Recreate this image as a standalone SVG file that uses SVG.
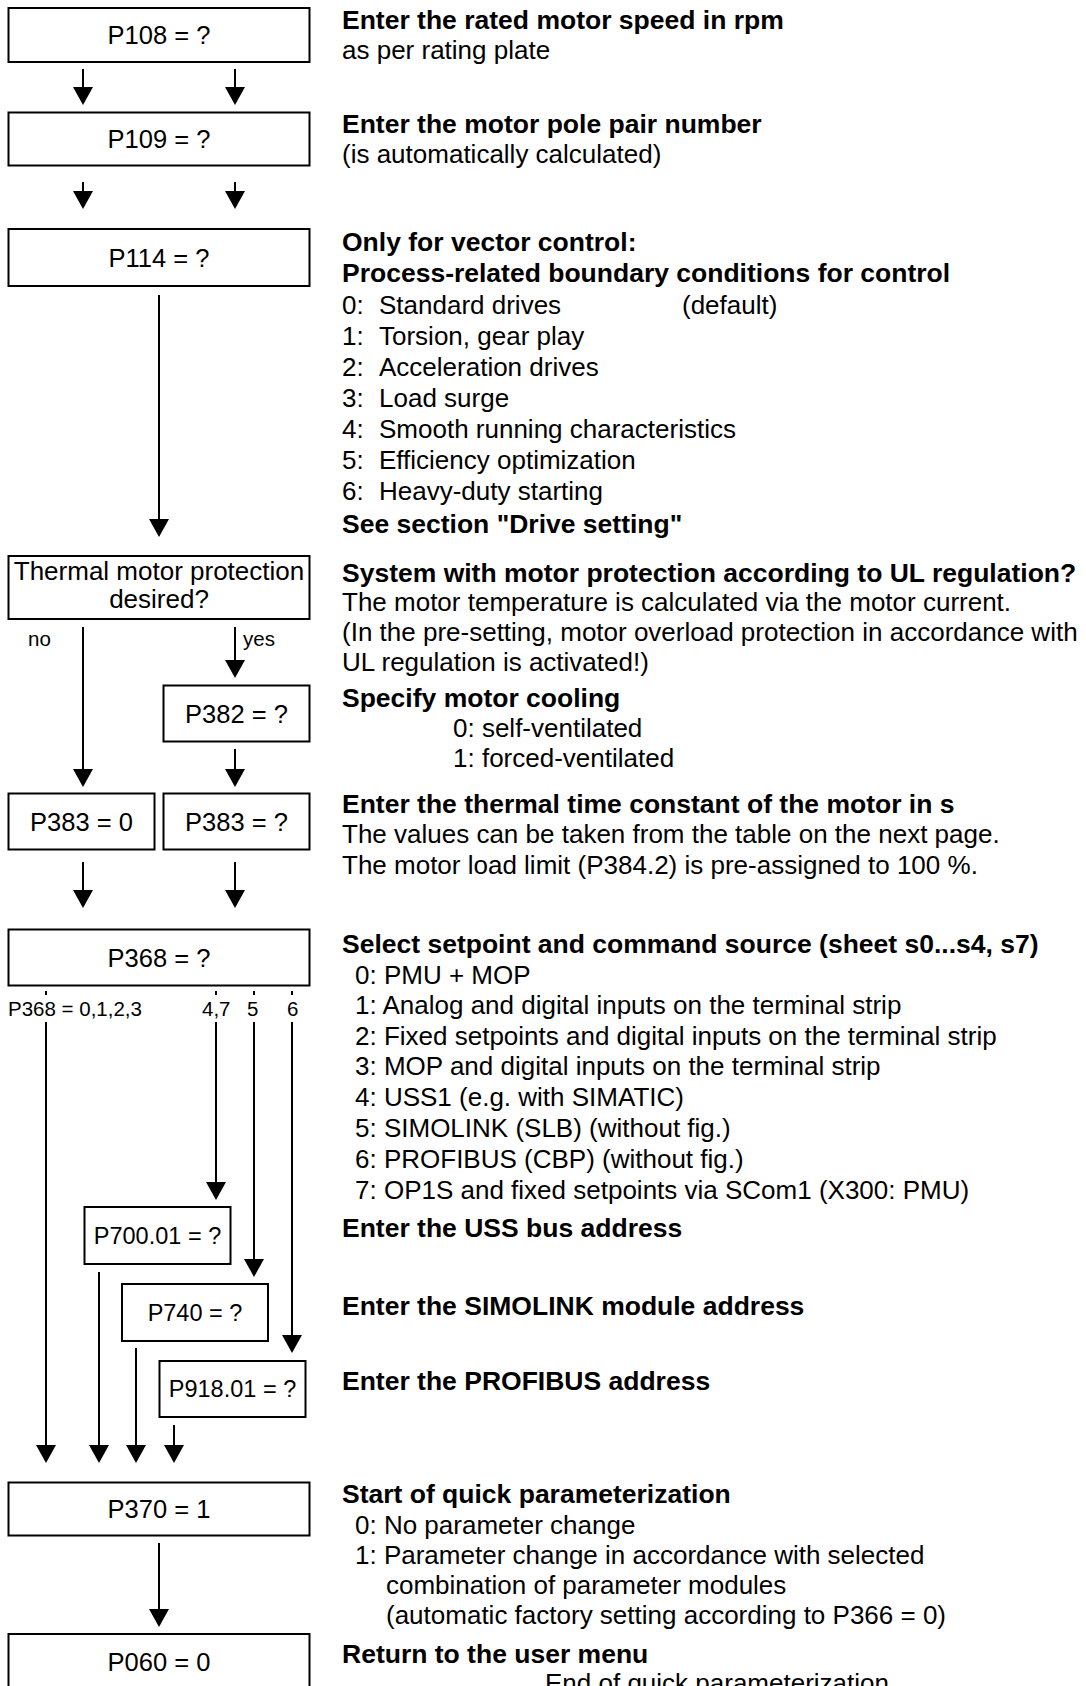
<svg xmlns="http://www.w3.org/2000/svg" width="1086" height="1686" viewBox="0 0 1086 1686">
  <style>
    .box { fill: #fff; stroke: #000; stroke-width: 2; }
    .lbl { font-family: "Liberation Sans", Arial, sans-serif; font-size: 25.5px; fill: #000; text-anchor: middle; }
    .lbl.s { font-size: 23.5px; }
    .lbl.t { font-size: 26px; }
    .txt { font-family: "Liberation Sans", Arial, sans-serif; font-size: 26px; fill: #000; }
    .b { font-weight: bold; font-size: 26.5px; }
    .sm { font-family: "Liberation Sans", Arial, sans-serif; font-size: 20.5px; fill: #000; }
    .wire { fill: none; stroke: #000; stroke-width: 2; }
    .arr { fill: none; stroke: #000; stroke-width: 2; marker-end: url(#head); }
  </style>
  <defs>
    <marker id="head" markerUnits="userSpaceOnUse" viewBox="0 0 18 20" refX="0" refY="10" markerWidth="18" markerHeight="20" orient="auto">
      <path d="M0,0 L18,10 L0,20 z" fill="#000"/>
    </marker>
  </defs>
  <rect width="1086" height="1686" fill="#fff"/>

  <!-- connectors -->
  <g id="connectors">
    <line class="arr" x1="83" y1="69" x2="83" y2="87"/>
    <line class="arr" x1="235" y1="69" x2="235" y2="87"/>
    <line class="arr" x1="83" y1="182" x2="83" y2="191"/>
    <line class="arr" x1="235" y1="182" x2="235" y2="191"/>
    <line class="arr" x1="159" y1="295" x2="159" y2="519"/>
    <line class="arr" x1="83" y1="627" x2="83" y2="769"/>
    <line class="arr" x1="235" y1="627" x2="235" y2="660"/>
    <line class="arr" x1="235" y1="749" x2="235" y2="769"/>
    <line class="arr" x1="83" y1="862" x2="83" y2="890"/>
    <line class="arr" x1="235" y1="862" x2="235" y2="890"/>
    <!-- stubs under P368 -->
    <line class="wire" x1="46" y1="991" x2="46" y2="995"/>
    <line class="wire" x1="216" y1="991" x2="216" y2="995"/>
    <line class="wire" x1="254" y1="991" x2="254" y2="995"/>
    <line class="wire" x1="292" y1="991" x2="292" y2="995"/>
    <line class="arr" x1="46" y1="1022" x2="46" y2="1445"/>
    <line class="arr" x1="216" y1="1022" x2="216" y2="1182"/>
    <line class="arr" x1="254" y1="1022" x2="254" y2="1259"/>
    <line class="arr" x1="292" y1="1022" x2="292" y2="1335"/>
    <line class="arr" x1="99" y1="1272" x2="99" y2="1445"/>
    <line class="arr" x1="136" y1="1348" x2="136" y2="1445"/>
    <line class="arr" x1="174" y1="1425" x2="174" y2="1445"/>
    <line class="arr" x1="159" y1="1543" x2="159" y2="1609"/>
  </g>

  <g id="n-p108"><rect class="box" x="8.5" y="8" width="301" height="54"/><text class="lbl" x="159" y="44">P108 = ?</text></g>
  <g id="n-p109"><rect class="box" x="8.5" y="112.5" width="301" height="53"/><text class="lbl" x="159" y="148">P109 = ?</text></g>
  <g id="n-p114"><rect class="box" x="8.5" y="229" width="301" height="57"/><text class="lbl" x="159" y="267">P114 = ?</text></g>
  <g id="n-thermal"><rect class="box" x="8.5" y="556" width="301" height="63"/><text class="lbl t" x="159" y="580">Thermal motor protection</text><text class="lbl t" x="159" y="608">desired?</text></g>
  <g id="n-p382"><rect class="box" x="163.5" y="685.5" width="146" height="56"/><text class="lbl" x="236.5" y="723">P382 = ?</text></g>
  <g id="n-p383a"><rect class="box" x="8.5" y="793.5" width="146" height="56"/><text class="lbl" x="81.5" y="831">P383 = 0</text></g>
  <g id="n-p383b"><rect class="box" x="163.5" y="793.5" width="146" height="56"/><text class="lbl" x="236.5" y="831">P383 = ?</text></g>
  <g id="n-p368"><rect class="box" x="8.5" y="929.5" width="301" height="56"/><text class="lbl" x="159" y="967">P368 = ?</text></g>
  <g id="n-p700"><rect class="box" x="84.5" y="1207" width="146" height="57"/><text class="lbl s" x="157.5" y="1244">P700.01 = ?</text></g>
  <g id="n-p740"><rect class="box" x="122" y="1284" width="146" height="57"/><text class="lbl s" x="195" y="1321">P740 = ?</text></g>
  <g id="n-p918"><rect class="box" x="159.5" y="1361" width="146" height="56"/><text class="lbl s" x="232.5" y="1397">P918.01 = ?</text></g>
  <g id="n-p370"><rect class="box" x="8.5" y="1482.5" width="301" height="53"/><text class="lbl" x="159" y="1518">P370 = 1</text></g>
  <g id="n-p060"><rect class="box" x="8.5" y="1634" width="301" height="60"/><text class="lbl" x="159" y="1671">P060 = 0</text></g>

  <!-- branch labels -->
  <g id="branch-labels">
    <text class="sm" x="28" y="646">no</text>
    <text class="sm" x="243" y="646">yes</text>
    <text class="sm" x="8" y="1016">P368 = 0,1,2,3</text>
    <text class="sm" x="202" y="1016">4,7</text>
    <text class="sm" x="247" y="1016">5</text>
    <text class="sm" x="287" y="1016">6</text>
  </g>

  <!-- descriptions -->
  <g id="descriptions" class="txt">
    <text class="b" x="342" y="29">Enter the rated motor speed in rpm</text>
    <text x="342" y="59">as per rating plate</text>
    <text class="b" x="342" y="133">Enter the motor pole pair number</text>
    <text x="342" y="163">(is automatically calculated)</text>
    <text class="b" x="342" y="251">Only for vector control:</text>
    <text class="b" x="342" y="282">Process-related boundary conditions for control</text>
    <text x="342" y="314">0:</text><text x="379" y="314">Standard drives</text><text x="682" y="314">(default)</text>
    <text x="342" y="345">1:</text><text x="379" y="345">Torsion, gear play</text>
    <text x="342" y="376">2:</text><text x="379" y="376">Acceleration drives</text>
    <text x="342" y="407">3:</text><text x="379" y="407">Load surge</text>
    <text x="342" y="438">4:</text><text x="379" y="438">Smooth running characteristics</text>
    <text x="342" y="469">5:</text><text x="379" y="469">Efficiency optimization</text>
    <text x="342" y="500">6:</text><text x="379" y="500">Heavy-duty starting</text>
    <text class="b" x="342" y="533">See section "Drive setting"</text>
    <text class="b" x="342" y="582">System with motor protection according to UL regulation?</text>
    <text x="342" y="611">The motor temperature is calculated via the motor current.</text>
    <text x="342" y="641">(In the pre-setting, motor overload protection in accordance with</text>
    <text x="342" y="671">UL regulation is activated!)</text>
    <text class="b" x="342" y="707">Specify motor cooling</text>
    <text x="453" y="737">0: self-ventilated</text>
    <text x="453" y="767">1: forced-ventilated</text>
    <text class="b" x="342" y="813">Enter the thermal time constant of the motor in s</text>
    <text x="342" y="843">The values can be taken from the table on the next page.</text>
    <text x="342" y="874">The motor load limit (P384.2) is pre-assigned to 100 %.</text>
    <text class="b" x="342" y="953">Select setpoint and command source (sheet s0...s4, s7)</text>
    <text x="355" y="984">0: PMU + MOP</text>
    <text x="355" y="1014">1: Analog and digital inputs on the terminal strip</text>
    <text x="355" y="1045">2: Fixed setpoints and digital inputs on the terminal strip</text>
    <text x="355" y="1075">3: MOP and digital inputs on the terminal strip</text>
    <text x="355" y="1106">4: USS1 (e.g. with SIMATIC)</text>
    <text x="355" y="1137">5: SIMOLINK (SLB) (without fig.)</text>
    <text x="355" y="1168">6: PROFIBUS (CBP) (without fig.)</text>
    <text x="355" y="1199">7: OP1S and fixed setpoints via SCom1 (X300: PMU)</text>
    <text class="b" x="342" y="1237">Enter the USS bus address</text>
    <text class="b" x="342" y="1315">Enter the SIMOLINK module address</text>
    <text class="b" x="342" y="1390">Enter the PROFIBUS address</text>
    <text class="b" x="342" y="1503">Start of quick parameterization</text>
    <text x="355" y="1534">0: No parameter change</text>
    <text x="355" y="1564">1: Parameter change in accordance with selected</text>
    <text x="386" y="1594">combination of parameter modules</text>
    <text x="386" y="1624">(automatic factory setting according to P366 = 0)</text>
    <text class="b" x="342" y="1663">Return to the user menu</text>
    <text x="545" y="1692">End of quick parameterization</text>
  </g>
</svg>
